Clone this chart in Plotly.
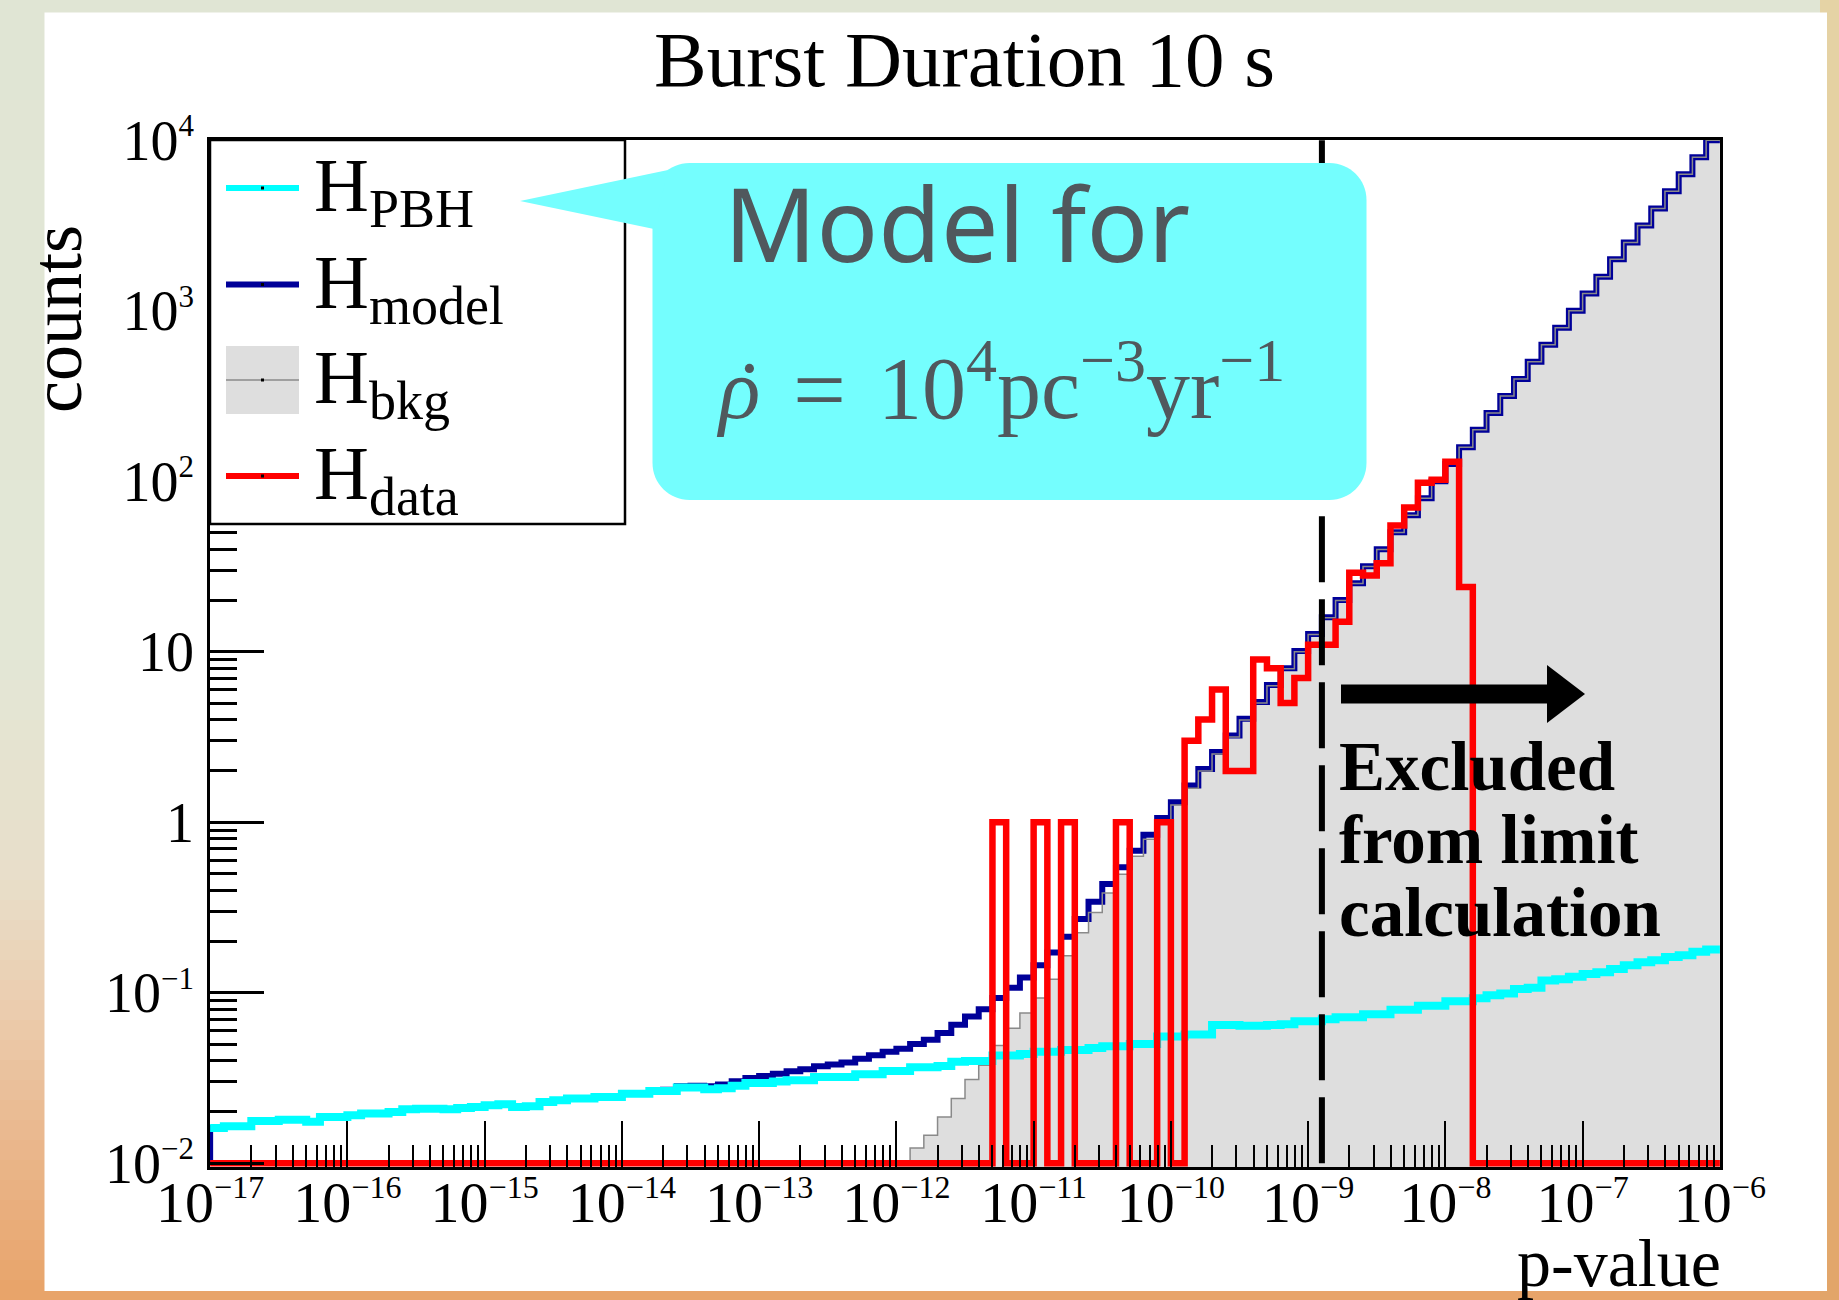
import numpy as np
import plotly.graph_objects as go

# ---------------- binning: 10 logarithmic bins per decade of p-value ----------------
LOG_P_LO, LOG_P_HI = -17, -6
N_BINS = 110
bin_edges = np.logspace(LOG_P_LO, LOG_P_HI, N_BINS + 1)

# ---------------- histogram contents (counts per bin, lowest p first) ----------------
h_pbh = [
    0.0161, 0.0165, 0.0165, 0.0177, 0.0177, 0.0180, 0.0180, 0.0175, 0.0187, 0.0187,
    0.0191, 0.0196, 0.0196, 0.0200, 0.0207, 0.0209, 0.0209, 0.0207, 0.0211, 0.0214,
    0.0219, 0.0222, 0.0214, 0.0216, 0.0229, 0.0234, 0.0240, 0.0240, 0.0245, 0.0245,
    0.0256, 0.0256, 0.0265, 0.0265, 0.0278, 0.0278, 0.0272, 0.0275, 0.0285, 0.0296,
    0.0296, 0.0302, 0.0307, 0.0307, 0.0321, 0.0321, 0.0321, 0.0333, 0.0333, 0.0347,
    0.0347, 0.0366, 0.0366, 0.0372, 0.0394, 0.0398, 0.0398, 0.0428, 0.0428, 0.0437,
    0.0450, 0.0450, 0.0461, 0.0461, 0.0474, 0.0486, 0.0486, 0.0500, 0.0500, 0.0553,
    0.0553, 0.0568, 0.0568, 0.0647, 0.0647, 0.0640, 0.0640, 0.0646, 0.0653, 0.0681,
    0.0681, 0.0700, 0.0718, 0.0718, 0.0748, 0.0748, 0.0794, 0.0794, 0.0838, 0.0838,
    0.0891, 0.0891, 0.0929, 0.0966, 0.0989, 0.105, 0.107, 0.118, 0.120, 0.124,
    0.129, 0.132, 0.138, 0.145, 0.151, 0.155, 0.162, 0.166, 0.174, 0.179,
]

h_bkg = [
    1.00e-7, 1.26e-7, 1.58e-7, 2.00e-7, 2.51e-7, 3.16e-7, 3.98e-7, 5.01e-7, 6.31e-7, 7.94e-7,
    1.00e-6, 1.26e-6, 1.58e-6, 2.00e-6, 2.51e-6, 3.16e-6, 3.98e-6, 5.01e-6, 6.31e-6, 7.94e-6,
    1.00e-5, 1.26e-5, 1.58e-5, 2.00e-5, 2.51e-5, 3.16e-5, 3.98e-5, 5.01e-5, 6.31e-5, 7.94e-5,
    1.00e-4, 1.26e-4, 1.58e-4, 2.00e-4, 2.51e-4, 3.16e-4, 3.98e-4, 5.01e-4, 6.31e-4, 7.94e-4,
    1.00e-3, 1.26e-3, 1.58e-3, 2.00e-3, 2.51e-3, 3.16e-3, 3.98e-3, 5.01e-3, 6.31e-3, 7.94e-3,
    0.0098, 0.0123, 0.0146, 0.0187, 0.0240, 0.0310, 0.0376, 0.0490, 0.0620, 0.0760,
    0.0930, 0.120, 0.165, 0.225, 0.295, 0.385, 0.495, 0.631, 0.794, 1.00,
    1.26, 1.58, 2.00, 2.51, 3.16, 3.98, 5.01, 6.31, 7.94, 10.0,
    12.6, 15.8, 20.0, 25.1, 31.6, 39.8, 50.1, 63.1, 79.4, 100.0,
    126, 158, 200, 251, 316, 398, 501, 631, 794, 1000,
    1260, 1580, 2000, 2510, 3160, 3980, 5010, 6310, 7940, 10000,
]

h_model = [
    0.0161, 0.0165, 0.0165, 0.0177, 0.0177, 0.0180, 0.0180, 0.0175, 0.0187, 0.0187,
    0.0191, 0.0196, 0.0196, 0.0200, 0.0207, 0.0209, 0.0209, 0.0207, 0.0211, 0.0214,
    0.0219, 0.0222, 0.0214, 0.0216, 0.0229, 0.0234, 0.0241, 0.0241, 0.0246, 0.0246,
    0.0257, 0.0258, 0.0267, 0.0270, 0.0283, 0.0285, 0.0283, 0.0290, 0.0303, 0.0316,
    0.0325, 0.0335, 0.0346, 0.0356, 0.0370, 0.0380, 0.0390, 0.0410, 0.0430, 0.0450,
    0.0470, 0.0500, 0.0530, 0.0580, 0.0650, 0.0725, 0.0800, 0.0930, 0.107, 0.123,
    0.145, 0.172, 0.213, 0.271, 0.342, 0.434, 0.544, 0.681, 0.844, 1.06,
    1.31, 1.64, 2.05, 2.58, 3.23, 4.04, 5.07, 6.37, 8.01, 10.1,
    12.7, 15.9, 20.1, 25.2, 31.7, 39.9, 50.2, 63.2, 79.5, 100.0,
    126, 158, 200, 251, 316, 398, 501, 631, 794, 1000,
    1260, 1580, 2000, 2510, 3160, 3980, 5010, 6310, 7940, 10000,
]

h_data = [
    0, 0, 0, 0, 0, 0, 0, 0, 0, 0,
    0, 0, 0, 0, 0, 0, 0, 0, 0, 0,
    0, 0, 0, 0, 0, 0, 0, 0, 0, 0,
    0, 0, 0, 0, 0, 0, 0, 0, 0, 0,
    0, 0, 0, 0, 0, 0, 0, 0, 0, 0,
    0, 0, 0, 0, 0, 0, 0, 1, 0, 0,
    1, 0, 1, 0, 0, 0, 1, 0, 0, 1,
    0, 3, 4, 6, 2, 2, 9, 8, 5, 7,
    11, 11, 15, 29, 28, 33, 55, 70, 98, 102,
    130, 24, 0, 0, 0, 0, 0, 0, 0, 0,
    0, 0, 0, 0, 0, 0, 0, 0, 0, 0,
]

cut_p = 1.26e-9          # bins above this p-value are excluded from the limit

# ---------------- axes ----------------
FIG_W, FIG_H = 1839, 1300
PLOT_L, PLOT_R, PLOT_T, PLOT_B = 210, 1720, 140, 1167

SERIF = "Liberation Serif"
SANS = "Noto Sans"


def sup(text, size):
    return '<sup><span style="font-size:%dpx">%s</span></sup>' % (size, text)


def sub(text, size):
    return '<sub><span style="font-size:%dpx">%s</span></sub>' % (size, text)


X_TICK_FONT, X_SUP = 58, 32
Y_TICK_FONT, Y_SUP = 56, 31

x_decades = [10.0 ** k for k in range(-17, -5)]
x_ticktext = ["10" + sup("−%d" % -k, X_SUP) for k in range(-17, -5)]
x_minor = [m * 10.0 ** k for k in range(-17, -6) for m in range(2, 10)]

y_decades = [1e-2, 1e-1, 1, 10, 1e2, 1e3, 1e4]
y_ticktext = ["10" + sup("−2", Y_SUP), "10" + sup("−1", Y_SUP), "1", "10",
              "10" + sup("2", Y_SUP), "10" + sup("3", Y_SUP), "10" + sup("4", Y_SUP)]
y_minor = [m * 10.0 ** k for k in range(-2, 4) for m in range(2, 10)]

Y_FLOOR = 1e-2            # empty bins are drawn on the lowest decade
Y_RANGE = [-2.022, 4.001]
X_RANGE = [-17.001, -5.999]

C_PBH = "#00ffff"
C_MODEL = "#000099"
C_BKG_FILL = "#dedede"
C_BKG_LINE = "#8a8a8a"
C_DATA = "#ff0000"
C_BUBBLE = "#74fefe"
C_BUBBLE_TEXT = "#50585d"


def px(x):
    return (x - PLOT_L) / (PLOT_R - PLOT_L)


def py(y):
    return (PLOT_B - y) / (PLOT_B - PLOT_T)


def step_y(values):
    return list(values) + [values[-1]]


fig = go.Figure()

# background histogram: filled area, then its outline above the model line
fig.add_trace(go.Scatter(
    x=bin_edges, y=step_y(h_bkg), mode="lines",
    line=dict(shape="hv", width=0, color=C_BKG_FILL),
    fill="tozeroy", fillcolor=C_BKG_FILL, hoverinfo="skip"))

fig.add_trace(go.Scatter(
    x=[bin_edges[0]] + list(bin_edges), y=[Y_FLOOR] + step_y(h_model), mode="lines",
    line=dict(shape="hv", width=6, color=C_MODEL), hoverinfo="skip"))

fig.add_trace(go.Scatter(
    x=bin_edges, y=step_y(h_bkg), mode="lines",
    line=dict(shape="hv", width=1.5, color=C_BKG_LINE), hoverinfo="skip"))

fig.add_trace(go.Scatter(
    x=bin_edges, y=step_y(h_pbh), mode="lines",
    line=dict(shape="hv", width=8, color=C_PBH), hoverinfo="skip"))

data_drawn = [v if v > 0 else Y_FLOOR for v in h_data]
fig.add_trace(go.Scatter(
    x=bin_edges, y=step_y(data_drawn), mode="lines",
    line=dict(shape="hv", width=6.5, color=C_DATA), hoverinfo="skip"))

# vertical cut: dashed line over the full y range
fig.add_trace(go.Scatter(
    x=[cut_p, cut_p], y=[Y_FLOOR, 10.0 ** 4], mode="lines",
    line=dict(color="black", width=6, dash="66px,17px"), hoverinfo="skip"))

# ---------------- page background (slide texture approximated by bands) ----------------
shapes = []


def blend(stops, y):
    for (y0, c0), (y1, c1) in zip(stops, stops[1:]):
        if y0 <= y <= y1:
            t = (y - y0) / (y1 - y0)
            return "rgb(%d,%d,%d)" % tuple(round(a + (b - a) * t) for a, b in zip(c0, c1))
    return "rgb(%d,%d,%d)" % stops[-1][1]


left_stops = [(0, (224, 229, 212)), (650, (227, 231, 214)), (880, (232, 222, 201)),
              (1000, (235, 206, 176)), (1120, (234, 186, 146)), (1300, (232, 163, 104))]
right_stops = [(0, (229, 211, 165)), (600, (228, 200, 148)), (1100, (225, 178, 122)),
               (1300, (226, 164, 104))]
BAND = 20
for y in range(0, FIG_H, BAND):
    yc = y + BAND / 2
    shapes.append(dict(type="rect", xref="paper", yref="paper", layer="below",
                       x0=px(0), x1=px(FIG_W), y0=py(y), y1=py(y + BAND + 1),
                       fillcolor=blend(left_stops, yc), line=dict(width=0)))
    shapes.append(dict(type="rect", xref="paper", yref="paper", layer="below",
                       x0=px(1820), x1=px(FIG_W), y0=py(y), y1=py(y + BAND + 1),
                       fillcolor=blend(right_stops, yc), line=dict(width=0)))
# white card behind the chart
shapes.append(dict(type="rect", xref="paper", yref="paper", layer="below",
                   x0=px(44.5), x1=px(1827), y0=py(12.5), y1=py(1291),
                   fillcolor="white", line=dict(width=0)))

# ---------------- exclusion arrow ----------------
shapes.append(dict(type="line", xref="paper", yref="paper", layer="above",
                   x0=px(1341), x1=px(1552), y0=py(694), y1=py(694),
                   line=dict(color="black", width=19)))
shapes.append(dict(type="path", xref="paper", yref="paper", layer="above",
                   path="M %f %f L %f %f L %f %f Z" % (px(1547), py(665), px(1585), py(694),
                                                       px(1547), py(723)),
                   fillcolor="black", line=dict(width=0)))

# ---------------- legend box ----------------
shapes.append(dict(type="rect", xref="paper", yref="paper", layer="above",
                   x0=px(210), x1=px(625), y0=py(140), y1=py(524),
                   fillcolor="white", line=dict(color="black", width=2.5)))
LEG_X0, LEG_X1, LEG_XC = 226, 299, 262.5
LEG_FONT, LEG_SUB = 76, 54
legend_rows = [
    ("H" + sub("PBH", LEG_SUB), 188, C_PBH, "line"),
    ("H" + sub("model", LEG_SUB), 284.5, C_MODEL, "line"),
    ("H" + sub("bkg", LEG_SUB), 380, C_BKG_LINE, "box"),
    ("H" + sub("data", LEG_SUB), 476, C_DATA, "line"),
]
annotations = []
for label, ly, color, kind in legend_rows:
    if kind == "box":
        shapes.append(dict(type="rect", xref="paper", yref="paper", layer="above",
                           x0=px(LEG_X0), x1=px(LEG_X1), y0=py(ly - 34), y1=py(ly + 34),
                           fillcolor=C_BKG_FILL, line=dict(width=0)))
        shapes.append(dict(type="line", xref="paper", yref="paper", layer="above",
                           x0=px(LEG_X0), x1=px(LEG_X1), y0=py(ly), y1=py(ly),
                           line=dict(color=color, width=1.5)))
    else:
        shapes.append(dict(type="line", xref="paper", yref="paper", layer="above",
                           x0=px(LEG_X0), x1=px(LEG_X1), y0=py(ly), y1=py(ly),
                           line=dict(color=color, width=6)))
    shapes.append(dict(type="rect", xref="paper", yref="paper", layer="above",
                       x0=px(LEG_XC - 1.5), x1=px(LEG_XC + 1.5), y0=py(ly - 1.5), y1=py(ly + 1.5),
                       fillcolor="black", line=dict(width=0)))
    annotations.append(dict(xref="paper", yref="paper", x=px(312), y=py(ly + 3),
                            xanchor="left", yanchor="middle", showarrow=False, text=label,
                            font=dict(family=SERIF, size=LEG_FONT, color="black")))

# ---------------- speech bubble (drawn over the legend frame) ----------------
BL, BR, BT, BB, RAD = 652.5, 1366.5, 163, 500, 37
K = 0.5523 * RAD


def pt(x, y):
    return "%f %f" % (px(x), py(y))


bubble = ("M " + pt(BL + RAD, BT) + " L " + pt(BR - RAD, BT) +
          " C " + pt(BR - RAD + K, BT) + " " + pt(BR, BT + RAD - K) + " " + pt(BR, BT + RAD) +
          " L " + pt(BR, BB - RAD) +
          " C " + pt(BR, BB - RAD + K) + " " + pt(BR - RAD + K, BB) + " " + pt(BR - RAD, BB) +
          " L " + pt(BL + RAD, BB) +
          " C " + pt(BL + RAD - K, BB) + " " + pt(BL, BB - RAD + K) + " " + pt(BL, BB - RAD) +
          " L " + pt(BL, BT + RAD) +
          " C " + pt(BL, BT + RAD - K) + " " + pt(BL + RAD - K, BT) + " " + pt(BL + RAD, BT) + " Z")
shapes.append(dict(type="path", xref="paper", yref="paper", layer="above", path=bubble,
                   fillcolor=C_BUBBLE, line=dict(width=0)))
shapes.append(dict(type="path", xref="paper", yref="paper", layer="above",
                   path="M " + pt(520, 201) + " L " + pt(668, 170) + " L " + pt(654, 229) + " Z",
                   fillcolor=C_BUBBLE, line=dict(width=0)))

# ---------------- texts ----------------
FORMULA_FONT, FORMULA_SUP = 88, 62
annotations += [
    dict(xref="paper", yref="paper", x=px(964), y=py(59), xanchor="center", yanchor="middle",
         showarrow=False, text="Burst Duration 10 s",
         font=dict(family=SERIF, size=79, color="black")),
    dict(xref="paper", yref="paper", x=px(57), y=py(319), xanchor="center", yanchor="middle",
         showarrow=False, text="counts", textangle=-90,
         font=dict(family=SERIF, size=72, color="black")),
    dict(xref="paper", yref="paper", x=px(1723), y=py(1263), xanchor="right", yanchor="middle",
         showarrow=False, text="p-value",
         font=dict(family=SERIF, size=68, color="black")),
    dict(xref="paper", yref="paper", x=px(722), y=py(222), xanchor="left", yanchor="middle",
         showarrow=False, text="Model for",
         font=dict(family=SANS, size=102, color=C_BUBBLE_TEXT)),
    # rate symbol: italic rho with an overdot
    dict(xref="paper", yref="paper", x=px(714), y=py(389), xanchor="left", yanchor="middle",
         showarrow=False, text="<i>ρ</i>",
         font=dict(family=SERIF, size=86, color=C_BUBBLE_TEXT)),
    dict(xref="paper", yref="paper", x=px(749), y=py(392), xanchor="center", yanchor="middle",
         showarrow=False, text="˙",
         font=dict(family=SERIF, size=86, color=C_BUBBLE_TEXT)),
    dict(xref="paper", yref="paper", x=px(819), y=py(389), xanchor="center", yanchor="middle",
         showarrow=False, text="=",
         font=dict(family=SERIF, size=94, color=C_BUBBLE_TEXT)),
    dict(xref="paper", yref="paper", x=px(876), y=py(381), xanchor="left", yanchor="middle",
         showarrow=False,
         text="10" + sup("4", FORMULA_SUP) + "pc" + sup("−3", FORMULA_SUP) +
              "yr" + sup("−1", FORMULA_SUP),
         font=dict(family=SERIF, size=FORMULA_FONT, color=C_BUBBLE_TEXT)),
]
for line_text, yc in (("Excluded", 767), ("from limit", 840), ("calculation", 913)):
    annotations.append(dict(xref="paper", yref="paper", x=px(1337), y=py(yc),
                            xanchor="left", yanchor="middle", showarrow=False,
                            text="<b>%s</b>" % line_text,
                            font=dict(family=SERIF, size=69, color="black")))

fig.update_layout(
    width=FIG_W, height=FIG_H, autosize=False,
    margin=dict(l=PLOT_L, r=FIG_W - PLOT_R, t=PLOT_T, b=FIG_H - PLOT_B, pad=0),
    paper_bgcolor="rgb(230,200,160)", plot_bgcolor="white",
    showlegend=False, shapes=shapes, annotations=annotations,
    xaxis=dict(type="log", range=X_RANGE, tickmode="array", tickvals=x_decades,
               ticktext=x_ticktext, ticks="inside", ticklen=46, tickwidth=2,
               tickcolor="black", showline=True, mirror=True, linewidth=2.5,
               linecolor="black", showgrid=False, zeroline=False,
               tickfont=dict(family=SERIF, size=X_TICK_FONT, color="black"),
               ticklabelstandoff=-17,
               minor=dict(tickmode="array", tickvals=x_minor, ticks="inside",
                          ticklen=22, tickwidth=2, tickcolor="black", showgrid=False)),
    yaxis=dict(type="log", range=Y_RANGE, tickmode="array", tickvals=y_decades,
               ticktext=y_ticktext, ticks="inside", ticklen=54, tickwidth=2.5,
               tickcolor="black", showline=True, mirror=True, linewidth=2.5,
               linecolor="black", showgrid=False, zeroline=False,
               tickfont=dict(family=SERIF, size=Y_TICK_FONT, color="black"),
               ticklabelstandoff=2,
               minor=dict(tickmode="array", tickvals=y_minor, ticks="inside",
                          ticklen=27, tickwidth=2.5, tickcolor="black", showgrid=False)),
)

fig.write_html("out.html")
